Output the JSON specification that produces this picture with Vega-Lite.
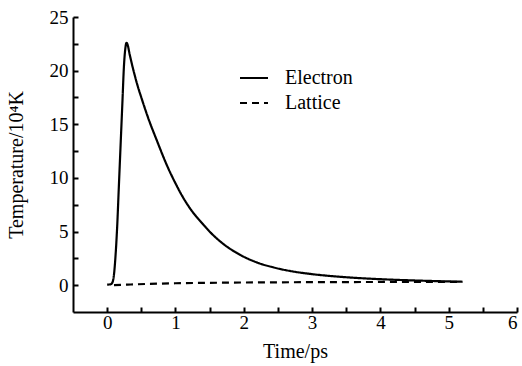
{
  "$schema": "https://vega.github.io/schema/vega-lite/v6.json",
  "width": 444,
  "height": 295,
  "autosize": {"type": "none"},
  "padding": {"left": 73, "top": 17, "right": 5, "bottom": 54},
  "background": "white",
  "config": {
    "view": {"stroke": null},
    "axis": {
      "domainColor": "black", "domainWidth": 2, "tickColor": "black", "tickWidth": 2,
      "labelColor": "black", "titleColor": "black", "titleFontWeight": "normal", "grid": false
    }
  },
  "data": {
    "values": [
      {"t": 0, "T": 0.05, "s": "Electron"},
      {"t": 0.05, "T": 0.08, "s": "Electron"},
      {"t": 0.08, "T": 0.3, "s": "Electron"},
      {"t": 0.1, "T": 1.0, "s": "Electron"},
      {"t": 0.12, "T": 2.5, "s": "Electron"},
      {"t": 0.147, "T": 5.5, "s": "Electron"},
      {"t": 0.17, "T": 9.0, "s": "Electron"},
      {"t": 0.205, "T": 14.3, "s": "Electron"},
      {"t": 0.225, "T": 17.3, "s": "Electron"},
      {"t": 0.244, "T": 20.2, "s": "Electron"},
      {"t": 0.265, "T": 22.0, "s": "Electron"},
      {"t": 0.283, "T": 22.6, "s": "Electron"},
      {"t": 0.3, "T": 22.4, "s": "Electron"},
      {"t": 0.33, "T": 21.5, "s": "Electron"},
      {"t": 0.39, "T": 19.9, "s": "Electron"},
      {"t": 0.45, "T": 18.5, "s": "Electron"},
      {"t": 0.5, "T": 17.5, "s": "Electron"},
      {"t": 0.6, "T": 15.6, "s": "Electron"},
      {"t": 0.733, "T": 13.4, "s": "Electron"},
      {"t": 0.88, "T": 11.1, "s": "Electron"},
      {"t": 1.0, "T": 9.5, "s": "Electron"},
      {"t": 1.1, "T": 8.3, "s": "Electron"},
      {"t": 1.22, "T": 7.1, "s": "Electron"},
      {"t": 1.4, "T": 5.7, "s": "Electron"},
      {"t": 1.515, "T": 4.9, "s": "Electron"},
      {"t": 1.7, "T": 3.85, "s": "Electron"},
      {"t": 1.955, "T": 2.8, "s": "Electron"},
      {"t": 2.2, "T": 2.1, "s": "Electron"},
      {"t": 2.44, "T": 1.65, "s": "Electron"},
      {"t": 2.7, "T": 1.3, "s": "Electron"},
      {"t": 3.0, "T": 1.03, "s": "Electron"},
      {"t": 3.5, "T": 0.74, "s": "Electron"},
      {"t": 4.0, "T": 0.56, "s": "Electron"},
      {"t": 4.5, "T": 0.44, "s": "Electron"},
      {"t": 5.0, "T": 0.35, "s": "Electron"},
      {"t": 5.2, "T": 0.32, "s": "Electron"},
      {"t": 0.1, "T": 0.0, "s": "Lattice"},
      {"t": 0.3, "T": 0.05, "s": "Lattice"},
      {"t": 0.6, "T": 0.12, "s": "Lattice"},
      {"t": 1.0, "T": 0.18, "s": "Lattice"},
      {"t": 1.5, "T": 0.22, "s": "Lattice"},
      {"t": 2.0, "T": 0.25, "s": "Lattice"},
      {"t": 3.0, "T": 0.28, "s": "Lattice"},
      {"t": 4.0, "T": 0.3, "s": "Lattice"},
      {"t": 5.2, "T": 0.31, "s": "Lattice"}
    ]
  },
  "mark": {"type": "line", "color": "black", "strokeWidth": 2.2, "interpolate": "monotone"},
  "encoding": {
    "x": {
      "field": "t", "type": "quantitative",
      "scale": {"domain": [-0.5, 6], "nice": false, "zero": false},
      "axis": {
        "title": "Time/ps", "values": [0, 0.5, 1, 1.5, 2, 2.5, 3, 3.5, 4, 4.5, 5, 5.5, 6],
        "labelExpr": "datum.value % 1 === 0 ? format(datum.value, 'd') : ''",
        "labelFont": "Liberation Serif", "labelFontSize": 19,
        "titleFont": "Liberation Serif", "titleFontSize": 20,
        "tickSize": -5, "labelPadding": 6, "titlePadding": 9
      }
    },
    "y": {
      "field": "T", "type": "quantitative",
      "scale": {"domain": [-2.5, 25], "nice": false, "zero": false},
      "axis": {
        "title": "Temperature/10⁴K", "values": [0, 2.5, 5, 7.5, 10, 12.5, 15, 17.5, 20, 22.5, 25],
        "labelExpr": "datum.value % 5 === 0 ? format(datum.value, 'd') : ''",
        "labelFont": "Liberation Serif", "labelFontSize": 19,
        "titleFont": "Liberation Serif", "titleFontSize": 20,
        "tickSize": -5, "labelPadding": 10, "titlePadding": 23
      }
    },
    "strokeDash": {
      "field": "s", "type": "nominal",
      "scale": {"domain": ["Electron", "Lattice"], "range": [[1, 0], [7, 5]]},
      "legend": {
        "title": null, "orient": "none", "legendX": 166, "legendY": 46,
        "symbolType": "stroke", "symbolSize": 784, "symbolStrokeWidth": 2,
        "symbolStrokeColor": "black", "labelOffset": 16, "rowPadding": -5,
        "labelFont": "Liberation Serif", "labelFontSize": 20, "labelColor": "black"
      }
    }
  }
}
